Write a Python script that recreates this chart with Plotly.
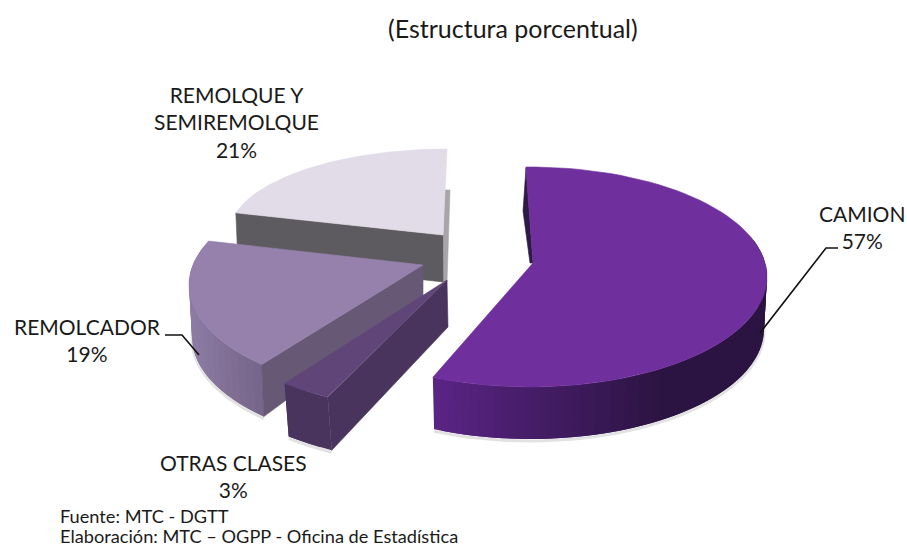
import numpy as np
import plotly.graph_objects as go

categories = ["CAMION", "OTRAS CLASES", "REMOLCADOR", "REMOLQUE Y<br>SEMIREMOLQUE"]
values = [57, 3, 19, 21]
title = "(Estructura porcentual)"
source_lines = ["Fuente: MTC - DGTT", "Elaboración: MTC – OGPP - Oficina de Estadística"]
FONT = "Lato"

# projection of each exploded slice: ellipse of the rim, apex, rotation, thickness
geom = {
    "CAMION": dict(c=(530, 277), r=(237, 110), apex=(533, 263), rot=-1, bc=(530, 329), br=(234, 110)),
    "OTRAS CLASES": dict(c=(441, 267), r=(266, 144), apex=(447, 280), rot=0, bc=(445, 320), br=(266, 144)),
    "REMOLCADOR": dict(c=(434, 285), r=(245, 112), apex=(423, 265), rot=8.7, bc=(434, 337), br=(242, 112)),
    "REMOLQUE Y<br>SEMIREMOLQUE": dict(c=(447, 234), r=(218, 85), apex=(443, 235), rot=0, bc=(447, 280), br=(216, 85)),
}
cum = np.concatenate([[0], np.cumsum(values)]) / sum(values) * 360
spans = {c: (cum[i], cum[i + 1]) for i, c in enumerate(categories)}


def rim(c, r, a):
    a = np.radians(a)
    return c[0] + r[0] * np.sin(a), c[1] - r[1] * np.cos(a)


fig = go.Figure()


def poly(xs, ys, color, lw=0.6):
    fig.add_trace(go.Scatter(x=list(xs), y=list(ys), mode="lines", fill="toself", fillcolor=color,
                             line=dict(color=color, width=lw), hoverinfo="skip", showlegend=False))


def line(xs, ys, color="#111111", width=1.6):
    fig.add_trace(go.Scatter(x=list(xs), y=list(ys), mode="lines", line=dict(color=color, width=width),
                             hoverinfo="skip", showlegend=False))


def mix(c1, c2, t):
    t = min(max(t, 0), 1)
    return "rgb(%d,%d,%d)" % tuple(round(a + (b - a) * t) for a, b in zip(c1, c2))


def side(name, a0, a1, n, c_from, c_to, x_from, x_to):
    g = geom[name]
    edges = np.linspace(a0, a1, n + 1)
    step = edges[1] - edges[0]
    for s, e in zip(edges[:-1], edges[1:]):
        # each strip runs on under the next one, so no seam shows
        end = e + step
        end = max(end, a1) if step < 0 else min(end, a1)
        aa = np.linspace(s, end, 5)
        tx, ty = rim(g["c"], g["r"], aa)
        bx, by = rim(g["bc"], g["br"], aa)
        t = (rim(g["c"], g["r"], (s + e) / 2)[0] - x_from) / (x_to - x_from)
        poly(np.r_[tx, bx[::-1], tx[0]], np.r_[ty, by[::-1], ty[0]], mix(c_from, c_to, t), lw=0)


def top(name, color):
    g = geom[name]
    a0, a1 = spans[name]
    aa = np.linspace(a0 + g["rot"], a1 + g["rot"], 80)
    x, y = rim(g["c"], g["r"], aa)
    poly(np.r_[g["apex"][0], x, g["apex"][0]], np.r_[g["apex"][1], y, g["apex"][1]], color)


def cut(name, angle, color, apex_drop):
    g = geom[name]
    a = angle + g["rot"]
    tx, ty = rim(g["c"], g["r"], a)
    bx, by = rim(g["bc"], g["br"], a)
    ax, ay = g["apex"]
    poly([ax, tx, bx, ax, ax], [ay, ty, by, ay + apex_drop, ay], color)


def shadow(name, a0, a1):
    g = geom[name]
    aa = np.linspace(a0, a1, 60)
    x, y = rim(g["bc"], g["br"], aa)
    line(x, y + 2, "rgba(60,60,60,0.15)", 3)


# REMOLQUE Y SEMIREMOLQUE
rq = categories[3]
poly([444, 450, 447, 443, 444], [190, 190, 282, 282, 190], "#a8a5aa")
cut(rq, spans[rq][0], "#5e5b60", 47)
top(rq, "#e1dce8")

# REMOLCADOR
rc = categories[2]
a0, a1 = spans[rc]
shadow(rc, a0 + 8.7, a1 + 8.7)
side(rc, a1 + 8.7, a0 + 8.7, 24, (141, 124, 163), (118, 100, 138), 189, 262)
cut(rc, a0, "#675876", 35)
top(rc, "#9581ac")

# OTRAS CLASES
ot = categories[1]
a0, a1 = spans[ot]
shadow(ot, a0, a1)
side(ot, a0, a1, 4, (72, 52, 92), (72, 52, 92), 285, 333)
g = geom[ot]
tx, ty = rim(g["c"], g["r"], a0)
bx, by = rim(g["bc"], g["br"], a0)
poly([g["apex"][0], tx, bx, g["apex"][0] + 1, g["apex"][0]],
     [g["apex"][1], ty, by, g["apex"][1] + 47, g["apex"][1]], "#48345c")
top(ot, "#5f4578")

# CAMION
cm = categories[0]
a0, a1 = spans[cm]
shadow(cm, 70, a1 - 1)
poly([526, 523, 530, 533, 526], [168, 211, 263, 263, 168], "#2d1a45")
side(cm, a1 - 1, 70, 70, (90, 36, 133), (44, 20, 66), 433, 660)
top(cm, "#6f2f9c")

# leader lines
line([760, 826, 838], [333, 248, 248])
line([165, 182, 199], [335, 335, 355])

notes = [
    (title, 513, 28, 25),
    (f"{categories[0]}<br>{values[0]}%", 862, 227, 21),
    (f"{categories[1]}<br>{values[1]}%", 233, 476, 21),
    (f"{categories[2]}<br>{values[2]}%", 87, 340, 21),
    (f"{categories[3]}<br>{values[3]}%", 236, 122, 21),
]
annotations = [dict(x=x, y=y, text=t, xref="x", yref="y", showarrow=False, xanchor="center", yanchor="middle",
                    font=dict(family=FONT, size=s, color="#1a1a1a")) for t, x, y, s in notes]
annotations += [dict(x=58, y=y, text=t, xref="x", yref="y", showarrow=False, xanchor="left", yanchor="middle",
                     font=dict(family=FONT, size=18.2, color="#1a1a1a"))
                for t, y in zip(source_lines, (515.5, 535.5))]

fig.update_layout(
    width=907, height=547, margin=dict(l=0, r=0, t=0, b=0),
    paper_bgcolor="white", plot_bgcolor="white", showlegend=False,
    xaxis=dict(range=[0, 907], visible=False, fixedrange=True),
    yaxis=dict(range=[547, 0], visible=False, fixedrange=True),
    annotations=annotations,
)
# drop the page's own margin so the 907x547 figure fills the window without a scrollbar
fig.write_html("out.html", config=dict(displayModeBar=False),
               post_script="document.body.style.margin='0';document.documentElement.style.overflow='hidden';")
